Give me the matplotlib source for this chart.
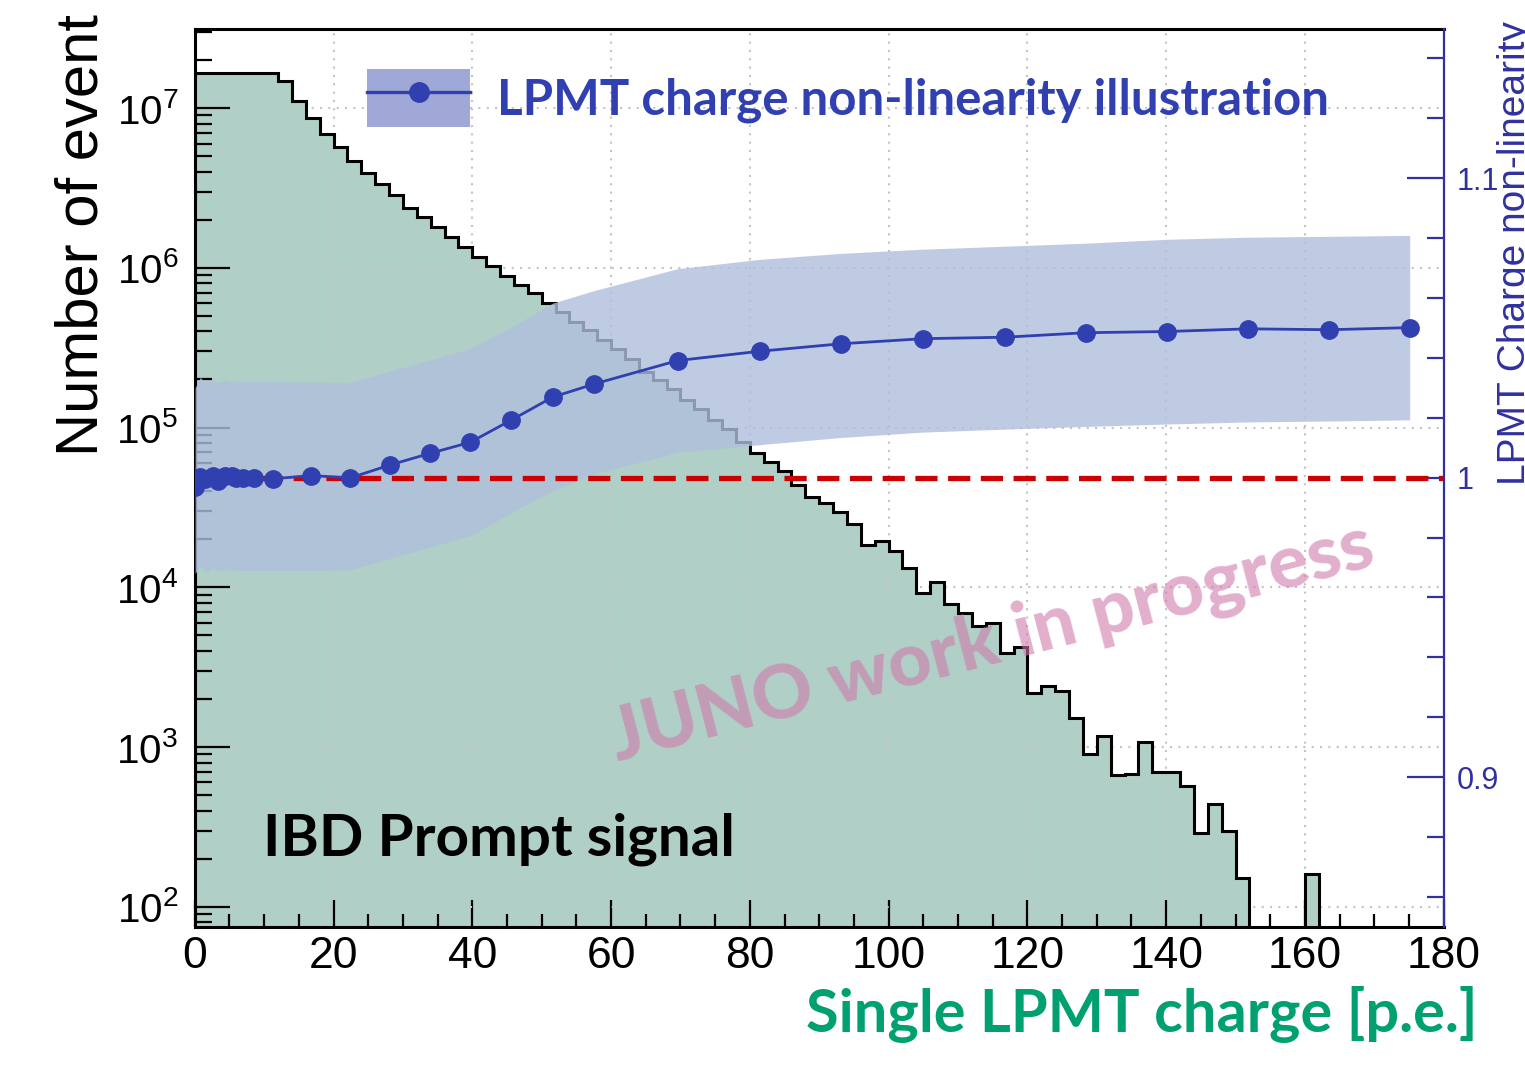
import numpy as np
import matplotlib
matplotlib.use('Agg')
import matplotlib.pyplot as plt
from matplotlib.patches import Patch
from matplotlib.lines import Line2D
from matplotlib.ticker import MultipleLocator, FixedLocator

plt.rcParams['font.family'] = ['Liberation Sans', 'DejaVu Sans']

# Гистограмма IBD: бины по 2 p.e. от 0 до 180
bin_edges = np.arange(0, 182, 2)
counts = [1.67e7, 1.67e7, 1.67e7, 1.67e7, 1.67e7, 1.67e7,
          1.47e7, 1.11e7, 8.65e6, 6.87e6, 5.69e6, 4.67e6, 3.91e6, 3.34e6,
          2.86e6, 2.38e6, 2.09e6, 1.81e6, 1.56e6, 1.36e6, 1.175e6, 1.03e6,
          8.9e5, 7.82e5, 6.93e5, 6.05e5, 5.32e5, 4.6e5, 4.08e5, 3.54e5,
          3.11e5, 2.68e5, 2.24e5, 1.99e5, 1.74e5, 1.49e5, 1.3e5, 1.12e5,
          9.76e4, 8.16e4, 6.9e4, 6.12e4, 5.37e4, 4.37e4, 3.69e4, 3.39e4,
          2.97e4, 2.49e4, 1.84e4, 1.96e4, 1.69e4, 1.315e4, 9.25e3, 1.075e4,
          7.83e3, 6.87e3, 5.75e3, 5.95e3, 3.86e3, 4.21e3, 2.17e3, 2.42e3,
          2.25e3, 1.53e3, 900, 1170, 668, 678, 1080, 700, 700, 570,
          288, 440, 299, 151, 0, 0, 0, 0, 160,
          0, 0, 0, 0, 0, 0, 0, 0, 0]

# Нелинейность заряда LPMT (правая ось)
nl_charge = [0.05, 0.8, 1.5, 2.6, 3.3, 4.3, 5.3, 5.9, 6.9, 8.5, 11.3, 16.8,
             22.4, 28.1, 33.9, 39.7, 45.6, 51.6, 57.6, 69.6, 81.4, 93.1,
             104.9, 116.8, 128.4, 140.1, 151.8, 163.5, 175.1]
nl_value = [0.997, 1.0003, 0.9997, 1.0007, 0.999, 1.0007, 1.0007, 1.0, 1.0,
            0.9999, 0.9996, 1.0007, 0.9999, 1.0042, 1.0081, 1.0118, 1.0192,
            1.0269, 1.0313, 1.0391, 1.0422, 1.0447, 1.0464, 1.0469, 1.0484,
            1.0488, 1.0497, 1.0494, 1.0501]
band_hi = [1.0300, 1.0335, 1.0318, 1.0330, 1.0315, 1.0326, 1.0320, 1.0322,
           1.0320, 1.0321, 1.0320, 1.0319, 1.0318, 1.0355, 1.0393, 1.0431,
           1.0502, 1.0583, 1.0625, 1.0698, 1.0729, 1.0749, 1.0763, 1.0773,
           1.0783, 1.0796, 1.0803, 1.0806, 1.0809]
band_lo = [0.9680, 0.9705, 0.9685, 0.9700, 0.9688, 0.9694, 0.9690, 0.9691,
           0.9690, 0.9690, 0.9690, 0.9690, 0.9692, 0.9730, 0.9768, 0.9806,
           0.9883, 0.9957, 1.0013, 1.0085, 1.0110, 1.0134, 1.0152, 1.0162,
           1.0171, 1.0179, 1.0186, 1.0189, 1.0193]

x_ticks = [0, 20, 40, 60, 80, 100, 120, 140, 160, 180]
right_ticks = [0.9, 1.0, 1.1]
right_labels = ['0.9', '1', '1.1']

blue = '#3040b0'
axis_blue = '#3030a0'
green_fill = '#b0cfc6'

fig = plt.figure(figsize=(15.25, 10.8), dpi=100)
ax = fig.add_axes([0.1277, 0.1419, 0.8190, 0.8317])

# гистограмма
ax.stairs(counts, bin_edges, fill=True, color=green_fill, zorder=1)
ax.stairs(counts, bin_edges, color='black', lw=2.2, zorder=2)

ax.set_yscale('log')
ax.set_xlim(0, 180)
ax.set_ylim(75, 3.15e7)
ax.set_xticks(x_ticks)
ax.xaxis.set_minor_locator(MultipleLocator(5))
ax.grid(True, which='major', ls=(0, (1, 3)), color='#c4c4c4', lw=1.5, zorder=0)
ax.tick_params(axis='x', which='major', direction='in', length=19.5, width=1.6,
               labelsize=32, pad=7)
ax.tick_params(axis='x', which='minor', direction='in', length=9.5, width=1.6)
ax.tick_params(axis='y', which='major', direction='in', length=25, width=1.6,
               labelsize=29, pad=12)
ax.tick_params(axis='y', which='minor', direction='in', length=12, width=1.6)
for s in ['left', 'bottom', 'top']:
    ax.spines[s].set_linewidth(2.2)
ax.spines['right'].set_visible(False)

# правая ось
ax2 = ax.twinx()
ax2.set_ylim(0.85, 1.15)
ax2.fill_between(nl_charge, band_lo, band_hi, color='#b0bfdd', alpha=0.8,
                 lw=0, zorder=1)
ax2.axhline(1.0, color='#cc0000', lw=3.8, ls=(0, (4.2, 2.0)), zorder=2)
ax2.plot(nl_charge, nl_value, color=blue, lw=2.0, marker='o', ms=12.5, zorder=3)

ax2.yaxis.set_major_locator(FixedLocator(right_ticks))
ax2.set_yticklabels(right_labels)
ax2.yaxis.set_minor_locator(MultipleLocator(0.02))
ax2.tick_params(axis='y', which='major', direction='in', length=26.5, width=1.6,
                colors=axis_blue, labelsize=22, pad=9.5)
ax2.tick_params(axis='y', which='minor', direction='in', length=12, width=1.6,
                colors=axis_blue)
ax2.spines['right'].set_color(axis_blue)
ax2.spines['right'].set_linewidth(1.6)
for s in ['left', 'bottom', 'top']:
    ax2.spines[s].set_visible(False)

# легенда
leg_handle = (Patch(facecolor='#a0a8d8', edgecolor='none'),
              Line2D([], [], color=blue, lw=2.4, marker='o', ms=14))
ax2.legend(handles=[leg_handle], labels=['LPMT charge non-linearity illustration'],
           loc='upper left', bbox_to_anchor=(0.138, 0.955), frameon=False,
           prop={'family': 'Lato', 'weight': 'bold', 'size': 35.5},
           labelcolor=blue, handlelength=2.09, handleheight=1.434,
           handletextpad=0.55, borderpad=0, borderaxespad=0)

# подписи
ax.text(0.0547, 0.0798, 'IBD Prompt signal', transform=ax.transAxes,
        family='Lato', weight='bold', fontsize=42, va='baseline', zorder=5)
fig.text(0.969, 0.0444, 'Single LPMT charge [p.e.]', ha='right', va='baseline',
         family='Lato', weight='bold', fontsize=42.8, color='#00a070')
fig.text(0.036, 0.7824, 'Number of event', rotation=90, ha='left', va='center',
         fontsize=43)
# на оригинале подпись правой оси обрезана краем картинки
fig.text(0.9816, 0.551, 'LPMT Charge non-linearity', rotation=90, ha='left',
         va='bottom', fontsize=28, color=axis_blue)

# водяной знак
fig.text(0.6505, 0.405, 'JUNO work in progress', rotation=14.5,
         rotation_mode='anchor', ha='center', va='center', family='Lato',
         weight='black', fontsize=54, color='#cf7aab', alpha=0.6, zorder=10)

fig.savefig('out.png', dpi=100)
